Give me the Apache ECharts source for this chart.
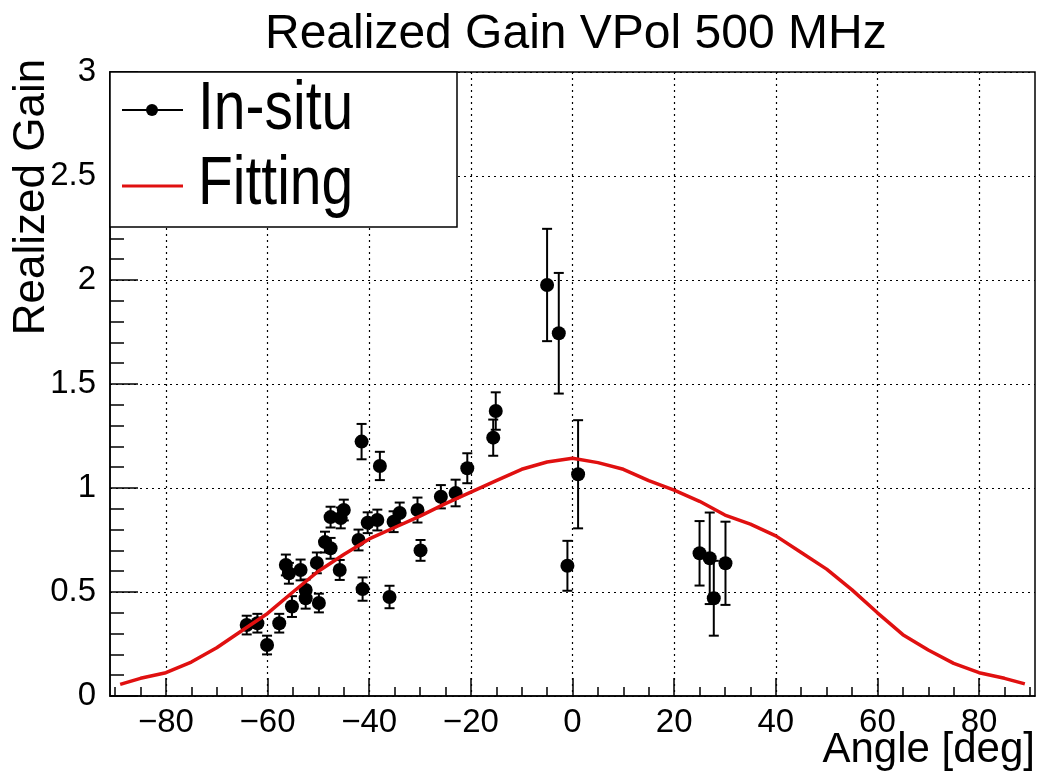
<!DOCTYPE html>
<html>
<head>
<meta charset="utf-8">
<script src="https://cdn.jsdelivr.net/npm/echarts@6/dist/echarts.min.js"></script>
<style>
html,body{margin:0;padding:0;background:#fff;}
#chart{width:1038px;height:773px;}
</style>
</head>
<body>
<div id="chart"></div>
<script>
// ---- data ----
const angleDeg = [-64.1,-62.0,-60.1,-57.7,-56.4,-55.8,-55.2,-53.5,-52.5,-52.5,-50.3,-49.9,-48.7,-47.6,-47.6,-45.8,-45.6,-45.0,-42.1,-41.5,-41.3,-40.3,-38.4,-37.9,-36.0,-35.2,-34.0,-30.5,-29.9,-25.9,-23.0,-20.7,-15.6,-15.1,-5.0,-2.7,-1.0,1.1,25.0,27.0,27.8,30.1];
const gain = [0.341,0.350,0.245,0.350,0.630,0.590,0.430,0.606,0.510,0.470,0.640,0.447,0.740,0.710,0.860,0.606,0.856,0.894,0.750,1.223,0.514,0.833,0.846,1.106,0.476,0.838,0.880,0.894,0.700,0.958,0.976,1.095,1.242,1.370,1.976,1.744,0.626,1.066,0.686,0.662,0.470,0.638];
const gainErr = [0.045,0.045,0.045,0.045,0.05,0.05,0.05,0.05,0.05,0.05,0.05,0.045,0.05,0.05,0.05,0.048,0.05,0.05,0.05,0.085,0.056,0.05,0.05,0.068,0.054,0.05,0.05,0.06,0.05,0.056,0.064,0.072,0.087,0.09,0.27,0.29,0.12,0.26,0.155,0.22,0.18,0.2];

const fitAngle = [-89,-85,-80,-75,-70,-65,-60,-55,-50,-45,-40,-35,-30,-25,-20,-15,-10,-5,0,5,10,15,20,25,30,35,40,45,50,55,60,65,70,75,80,85,89];
const fitGain = [0.056,0.085,0.112,0.163,0.232,0.315,0.397,0.50,0.60,0.68,0.755,0.81,0.865,0.925,0.98,1.035,1.09,1.125,1.143,1.122,1.09,1.035,0.99,0.936,0.87,0.826,0.77,0.69,0.61,0.51,0.40,0.295,0.221,0.157,0.112,0.085,0.058];

const xMajorTicks = [-80,-60,-40,-20,0,20,40,60,80];
const xMinorTicks = [-90,-85,-75,-70,-65,-55,-50,-45,-35,-30,-25,-15,-10,-5,5,10,15,25,30,35,45,50,55,65,70,75,85,90];

const titleText = 'Realized Gain VPol 500 MHz';
const xTitle = 'Angle [deg]';
const yTitle = 'Realized Gain';
const legendNames = ['In-situ', 'Fitting'];

// ---- chart ----
const FONT = "'Liberation Sans', Arial, sans-serif";
const chart = echarts.init(document.getElementById('chart'), null, {renderer: 'canvas'});

const pts = angleDeg.map((a, i) => [a, gain[i], gainErr[i]]);
const fit = fitAngle.map((a, i) => [a, fitGain[i]]);

const option = {
  animation: false,
  backgroundColor: '#fff',
  title: {
    text: titleText,
    left: 260, top: 6,
    textStyle: {fontFamily: FONT, fontSize: 48, fontWeight: 'normal', color: '#000'}
  },
  grid: {left: 110, right: 3, top: 72, bottom: 77, show: true, borderColor: '#000', borderWidth: 1.5, backgroundColor: 'transparent'},
  xAxis: [{
    type: 'value', min: -91, max: 91, position: 'bottom',
    axisLine: {show: true, onZero: false, lineStyle: {color: '#000', width: 1.5}},
    axisTick: {show: true, inside: true, length: 18, customValues: xMajorTicks, lineStyle: {color: '#000', width: 1.5}},
    axisLabel: {customValues: xMajorTicks, margin: 10, fontFamily: FONT, fontSize: 33, color: '#000',
      formatter: v => String(v).replace('-', '\u2212')},
    splitLine: {show: true, lineStyle: {color: '#000', type: [2, 4], width: 1.2}}
  }, {
    type: 'value', min: -91, max: 91, position: 'bottom',
    axisLine: {show: false},
    axisTick: {show: true, inside: true, length: 9, customValues: xMinorTicks, lineStyle: {color: '#000', width: 1.5}},
    axisLabel: {show: false},
    splitLine: {show: false}
  }],
  yAxis: {
    type: 'value', min: 0, max: 3, interval: 0.5,
    axisLine: {show: true, onZero: false, lineStyle: {color: '#000', width: 1.5}},
    axisTick: {show: true, inside: true, length: 28, lineStyle: {color: '#000', width: 1.5}},
    minorTick: {show: true, splitNumber: 5, length: 14, lineStyle: {color: '#000', width: 1.5}},
    axisLabel: {margin: 14, fontFamily: FONT, fontSize: 33, color: '#000'},
    splitLine: {show: true, lineStyle: {color: '#000', type: [2, 4], width: 1.2}}
  },
  series: [{
    name: 'In-situ errors',
    type: 'custom',
    data: pts,
    encode: {x: 0, y: 1},
    z: 3,
    renderItem: function (params, api) {
      const x = api.value(0), y = api.value(1), e = api.value(2);
      const top = api.coord([x, y + e]);
      const bot = api.coord([x, y - e]);
      const cap = 5;
      const st = {stroke: '#000', lineWidth: 2};
      return {type: 'group', children: [
        {type: 'line', shape: {x1: top[0], y1: top[1], x2: bot[0], y2: bot[1]}, style: st},
        {type: 'line', shape: {x1: top[0] - cap, y1: top[1], x2: top[0] + cap, y2: top[1]}, style: st},
        {type: 'line', shape: {x1: bot[0] - cap, y1: bot[1], x2: bot[0] + cap, y2: bot[1]}, style: st}
      ]};
    }
  }, {
    name: legendNames[0],
    type: 'scatter',
    data: pts.map(p => [p[0], p[1]]),
    symbol: 'circle', symbolSize: 14,
    itemStyle: {color: '#000', opacity: 1},
    z: 4
  }, {
    name: legendNames[1],
    type: 'line',
    data: fit,
    showSymbol: false, symbol: 'none',
    lineStyle: {color: '#e01010', width: 3.5},
    z: 5
  }],
  graphic: [
    {type: 'rect', shape: {x: 110, y: 72, width: 347, height: 155}, style: {fill: '#fff', stroke: '#000', lineWidth: 1.5}, z: 100},
    {type: 'line', shape: {x1: 122, y1: 110, x2: 183, y2: 110}, style: {stroke: '#000', lineWidth: 2}, z: 101},
    {type: 'circle', shape: {cx: 152, cy: 110, r: 6}, style: {fill: '#000'}, z: 101},
    {type: 'line', shape: {x1: 122, y1: 186, x2: 183, y2: 186}, style: {stroke: '#e01010', lineWidth: 3}, z: 101},
    {type: 'text', x: 198, y: 110, scaleY: 1.2, style: {text: legendNames[0], font: '57px ' + FONT, fill: '#000', textAlign: 'left', textVerticalAlign: 'middle'}, z: 101},
    {type: 'text', x: 198, y: 185, scaleY: 1.2, style: {text: legendNames[1], font: '57px ' + FONT, fill: '#000', textAlign: 'left', textVerticalAlign: 'middle'}, z: 101},
    {type: 'text', x: 32, y: 197, rotation: Math.PI / 2, style: {text: yTitle, font: '44px ' + FONT, fill: '#000', textAlign: 'center', textVerticalAlign: 'middle'}, z: 101},
    {type: 'text', x: 1035, y: 750, style: {text: xTitle, font: '42px ' + FONT, fill: '#000', textAlign: 'right', textVerticalAlign: 'middle'}, z: 101}
  ]
};
chart.setOption(option);
</script>
</body>
</html>
